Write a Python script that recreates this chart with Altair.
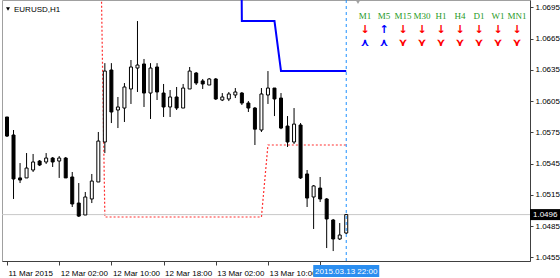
import altair as alt
import pandas as pd

# ---- data ----
bar_index = list(range(53))
opens = [1.05897, 1.05724, 1.05312, 1.05312, 1.05388, 1.05474, 1.05465, 1.05503, 1.05474, 1.05503,
         1.05321, 1.05071, 1.04956, 1.05110, 1.05273, 1.05657, 1.06348, 1.05964, 1.05983, 1.06166,
         1.06367, 1.06406, 1.06127, 1.06377, 1.06127, 1.05993, 1.06089, 1.05983, 1.06166, 1.06319,
         1.06243, 1.06204, 1.06262, 1.06060, 1.06070, 1.06108, 1.06127, 1.06031, 1.05983, 1.05772,
         1.06108, 1.06175, 1.06079, 1.05810, 1.05657, 1.05820, 1.05350, 1.05129, 1.05215, 1.05110,
         1.04908, 1.04726, 1.04783]
highs = [1.05897, 1.05772, 1.05455, 1.05551, 1.05542, 1.05484, 1.05551, 1.05513, 1.05522, 1.05513,
         1.05369, 1.05263, 1.05177, 1.05350, 1.05753, 1.06414, 1.06414, 1.06089, 1.06223, 1.06444,
         1.06818, 1.06454, 1.06414, 1.06414, 1.06214, 1.06156, 1.06185, 1.06214, 1.06377, 1.06329,
         1.06262, 1.06271, 1.06271, 1.06127, 1.06137, 1.06175, 1.06137, 1.06050, 1.05993, 1.06175,
         1.06338, 1.06175, 1.06127, 1.05906, 1.05983, 1.05839, 1.05388, 1.05244, 1.05321, 1.05119,
         1.04918, 1.04879, 1.04966]
lows = [1.05705, 1.05110, 1.05263, 1.05312, 1.05369, 1.05426, 1.05446, 1.05417, 1.05312, 1.05312,
        1.05033, 1.04937, 1.04956, 1.05071, 1.05273, 1.05551, 1.05839, 1.05791, 1.05849, 1.06022,
        1.06137, 1.05993, 1.05878, 1.06060, 1.05897, 1.05897, 1.05964, 1.05983, 1.06166, 1.06204,
        1.06166, 1.06204, 1.06060, 1.06050, 1.06050, 1.06079, 1.06012, 1.05945, 1.05628, 1.05753,
        1.06022, 1.05906, 1.05780, 1.05609, 1.05638, 1.05302, 1.05033, 1.04822, 1.05081, 1.04639,
        1.04610, 1.04716, 1.04774]
closes = [1.05714, 1.05302, 1.05292, 1.05407, 1.05465, 1.05436, 1.05503, 1.05465, 1.05503, 1.05312,
          1.05062, 1.04946, 1.05129, 1.05282, 1.05666, 1.06338, 1.05945, 1.05993, 1.06185, 1.06377,
          1.06396, 1.06127, 1.06367, 1.06137, 1.05993, 1.06089, 1.05983, 1.06175, 1.06338, 1.06223,
          1.06214, 1.06262, 1.06070, 1.06089, 1.06118, 1.06137, 1.06031, 1.05983, 1.05780, 1.06118,
          1.06175, 1.06070, 1.05791, 1.05657, 1.05829, 1.05312, 1.05119, 1.05235, 1.05110, 1.04918,
          1.04726, 1.04764, 1.04960]

support_index = list(range(14, 53))
support_vals = [1.09000,
                1.04937, 1.04937, 1.04937, 1.04937, 1.04937, 1.04937, 1.04937, 1.04937, 1.04937, 1.04937,
                1.04937, 1.04937, 1.04937, 1.04937, 1.04937, 1.04937, 1.04937, 1.04937, 1.04937, 1.04937,
                1.04937, 1.04937, 1.04937, 1.04937, 1.04937,
                1.05628, 1.05628, 1.05628, 1.05628, 1.05628, 1.05628, 1.05628, 1.05628, 1.05628, 1.05628,
                1.05628, 1.05628, 1.05628]
resist_index = list(range(35, 53))
resist_vals = [1.15000,
               1.06818, 1.06818, 1.06818, 1.06818, 1.06818, 1.06818,
               1.06338, 1.06338, 1.06338, 1.06338, 1.06338, 1.06338, 1.06338, 1.06338, 1.06338, 1.06338,
               1.06338]

current_price = 1.0496
current_bar = 52
current_time = "2015.03.13 22:00"
symbol_title = "EURUSD,H1"

price_ticks = [1.0455, 1.0485, 1.0515, 1.0545, 1.0575, 1.0605, 1.0635, 1.0665, 1.0695]
time_tick_idx = [0, 8, 16, 24, 32, 40, 48]
time_tick_labels = ["11 Mar 2015", "12 Mar 02:00", "12 Mar 10:00", "12 Mar 18:00",
                    "13 Mar 02:00", "13 Mar 10:00", ""]

timeframes = ["M1", "M5", "M15", "M30", "H1", "H4", "D1", "W1", "MN1"]
trend_dir = ["down", "up", "down", "down", "down", "down", "down", "down", "down"]
signal_dir = ["up", "up", "down", "down", "down", "down", "down", "down", "down"]

# ---- frames ----
candles = pd.DataFrame({"i": bar_index, "o": opens, "h": highs, "l": lows, "c": closes})
candles["bull"] = candles["c"] >= candles["o"]
sup = pd.DataFrame({"i": support_index, "v": support_vals})
res = pd.DataFrame({"i": resist_index, "v": resist_vals})
tab = pd.DataFrame({"col": list(range(len(timeframes))), "tf": timeframes,
                    "trend": trend_dir, "sig": signal_dir})
one = pd.DataFrame({"price": [current_price], "bar": [current_bar]})

FONT = "Liberation Sans"
XDOM = [0, 79.4]
YDOM = [1.045145, 1.070201]

label_expr = ""
for k, lab in zip(time_tick_idx, time_tick_labels):
    label_expr += f"datum.value == {k} ? '{lab}' : "
label_expr += "''"

xs = alt.Scale(domain=XDOM, nice=False, zero=False)
ys = alt.Scale(domain=YDOM, nice=False, zero=False)

XA = alt.Axis(values=time_tick_idx, labelExpr=label_expr, labelAlign="left", labelBaseline="middle",
              labelPadding=8, labelOffset=1, tickSize=4, tickColor="#404040", domainColor="#404040",
              labelFont=FONT, labelFontSize=8, labelColor="#000", grid=False, title=None,
              labelOverlap=False, labelFlush=False)
YA = alt.Axis(values=price_ticks, format=".4f", orient="right", tickSize=3, tickColor="#404040",
              domainColor="#404040", labelFont=FONT, labelFontSize=8, labelColor="#000",
              labelPadding=2, grid=False, title=None, labelOverlap=False, labelFlush=False)

sup_line = alt.Chart(sup).mark_line(color="#ff3030", strokeWidth=1.2, strokeDash=[2, 2], clip=True).encode(
    x=alt.X("i:Q", scale=xs, axis=XA), y=alt.Y("v:Q", scale=ys, axis=YA))

price_line = alt.Chart(one).mark_rule(color="#c8c8c8", strokeWidth=1).encode(
    y=alt.Y("price:Q", scale=ys, axis=YA))

res_line = alt.Chart(res).mark_line(color="#0000ff", strokeWidth=2, clip=True).encode(
    x=alt.X("i:Q", scale=xs, axis=XA), y=alt.Y("v:Q", scale=ys, axis=YA))

wicks = alt.Chart(candles).mark_rule(color="#000", strokeWidth=1, clip=True).encode(
    x=alt.X("i:Q", scale=xs, axis=XA), y=alt.Y("l:Q", scale=ys, axis=YA), y2="h:Q")
bodies = alt.Chart(candles).mark_bar(width=3, stroke="#000", strokeWidth=1, clip=True).encode(
    x=alt.X("i:Q", scale=xs, axis=XA), y=alt.Y("o:Q", scale=ys, axis=YA), y2="c:Q",
    fill=alt.condition("datum.bull", alt.value("#ffffff"), alt.value("#000000")))

vline = alt.Chart(one).mark_rule(color="#1e90ff", strokeWidth=1, strokeDash=[3, 3]).encode(
    x=alt.X("bar:Q", scale=xs, axis=XA))

time_box = alt.Chart(one).mark_rect(color="#2b8ef0", xOffset=-33, x2Offset=33).encode(
    x=alt.X("bar:Q", scale=xs, axis=XA), x2="bar:Q", y=alt.value(265), y2=alt.value(277))
time_text = alt.Chart(one).mark_text(color="#ffffff", font=FONT, fontSize=8, align="center",
                                     baseline="middle").encode(
    x=alt.X("bar:Q", scale=xs, axis=XA), y=alt.value(271.5), text=alt.value(current_time))

price_box = alt.Chart(one).mark_rect(color="#000000", yOffset=-5.5, y2Offset=5.5).encode(
    y=alt.Y("price:Q", scale=ys, axis=YA), y2="price:Q", x=alt.value(528), x2=alt.value(558))
price_text = alt.Chart(one).mark_text(color="#ffffff", font=FONT, fontSize=8, align="left",
                                      baseline="middle").encode(
    y=alt.Y("price:Q", scale=ys, axis=YA), x=alt.value(531), text=alt.Text("price:Q", format=".4f"))

title_tri = alt.Chart(one).mark_point(shape="triangle-down", filled=True, color="#000", size=16,
                                      opacity=1).encode(x=alt.value(6), y=alt.value(9))
title_text = alt.Chart(one).mark_text(font=FONT, fontSize=8, align="left", baseline="middle",
                                      color="#000").encode(x=alt.value(12), y=alt.value(9.5),
                                                           text=alt.value(symbol_title))
shift_tri = alt.Chart(one).mark_point(shape="triangle-down", filled=True, color="#a0a0a0", size=22,
                                      opacity=1).encode(x=alt.value(356), y=alt.value(2))

main = alt.layer(sup_line, price_line, res_line, wicks, bodies, vline, time_box, time_text,
                 price_box, price_text, title_tri, title_text, shift_tri)

tx = alt.Scale(domain=[0, 8], range=[363, 515])
tf_text = alt.Chart(tab).mark_text(font="Liberation Serif", fontSize=9, color="#1f9a1f",
                                   baseline="middle").encode(
    x=alt.X("col:Q", scale=tx, axis=None), y=alt.value(16), text="tf:N")
trend_text = alt.Chart(tab).transform_calculate(
    sym="datum.trend == 'up' ? '↑' : '↓'").mark_text(font="DejaVu Sans", fontSize=11, fontWeight="bold",
                                                      baseline="middle").encode(
    x=alt.X("col:Q", scale=tx, axis=None), y=alt.value(30), text="sym:N",
    color=alt.condition("datum.trend == 'up'", alt.value("#0000ff"), alt.value("#ff0000")))
sig_text = alt.Chart(tab).transform_calculate(
    sym="datum.sig == 'up' ? '⋏' : '⋎'").mark_text(font="DejaVu Sans", fontSize=11, fontWeight="bold",
                                                  baseline="middle").encode(
    x=alt.X("col:Q", scale=tx, axis=None), y=alt.value(43), text="sym:N",
    color=alt.condition("datum.sig == 'up'", alt.value("#0000ff"), alt.value("#ff0000")))
table = alt.layer(tf_text, trend_text, sig_text)

chart = alt.layer(main, table).resolve_scale(x="independent").properties(
    width=528, height=261, autosize="none",
    padding={"left": 2, "top": 0, "right": 30, "bottom": 17},
    background="#ffffff",
).configure_view(stroke="#a0a0a0", strokeWidth=1)

chart.save("out.html", embed_options={"renderer": "svg", "actions": False})
